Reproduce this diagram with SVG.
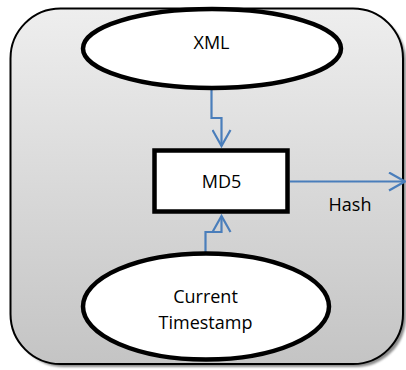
<svg xmlns="http://www.w3.org/2000/svg" width="406" height="370" viewBox="0 0 406 370">
  <defs>
    <linearGradient id="bgGrad" x1="0" y1="0" x2="0" y2="1">
      <stop offset="0" stop-color="#eeeeee"/>
      <stop offset="1" stop-color="#c4c4c4"/>
    </linearGradient>
    <filter id="blur" x="-5%" y="-5%" width="110%" height="110%">
      <feGaussianBlur stdDeviation="1"/>
    </filter>
    <marker id="arrow" viewBox="0 0 20 20" refX="18" refY="10" markerWidth="20" markerHeight="20" markerUnits="userSpaceOnUse" orient="auto">
      <path d="M2,1 L18,10 L2,19" fill="none" stroke="#4a7ebb" stroke-width="2.2"/>
    </marker>
    <style>
      .node { fill: #ffffff; stroke: #000000; stroke-width: 4.5; }
      .conn { fill: none; stroke: #4a7ebb; stroke-width: 2.2; marker-end: url(#arrow); }
      .label { font-family: "Open Sans", "Liberation Sans", sans-serif; font-size: 18px; fill: #000000; text-anchor: middle; }
    </style>
  </defs>

  <g id="background">
    <rect x="13.5" y="11.5" width="392.5" height="355.5" rx="50" ry="50" fill="#8a8a8a" filter="url(#blur)"/>
    <rect x="10.5" y="8.5" width="392.5" height="355.5" rx="50" ry="50" fill="url(#bgGrad)" stroke="#000000" stroke-width="2"/>
  </g>

  <g id="connectors">
    <path class="conn" d="M211.5,90 L211.5,118 L221.5,118 L221.5,146"/>
    <path class="conn" d="M205.5,253 L205.5,232 L221.5,232 L221.5,216"/>
    <path class="conn" d="M290,181.5 L405,181.5"/>
  </g>

  <g id="xml">
    <ellipse class="node" cx="212" cy="48.5" rx="129" ry="39.5"/>
    <text class="label" x="211.5" y="49">XML</text>
  </g>

  <g id="md5">
    <rect class="node" x="154.5" y="150.5" width="133" height="61"/>
    <text class="label" x="221.5" y="188">MD5</text>
  </g>

  <g id="timestamp">
    <ellipse class="node" cx="206" cy="306.5" rx="123" ry="53"/>
    <text class="label" x="205.5" y="303">Current</text>
    <text class="label" x="205.5" y="329">Timestamp</text>
  </g>

  <g id="hash-label">
    <text class="label" x="350" y="210.5">Hash</text>
  </g>
</svg>
